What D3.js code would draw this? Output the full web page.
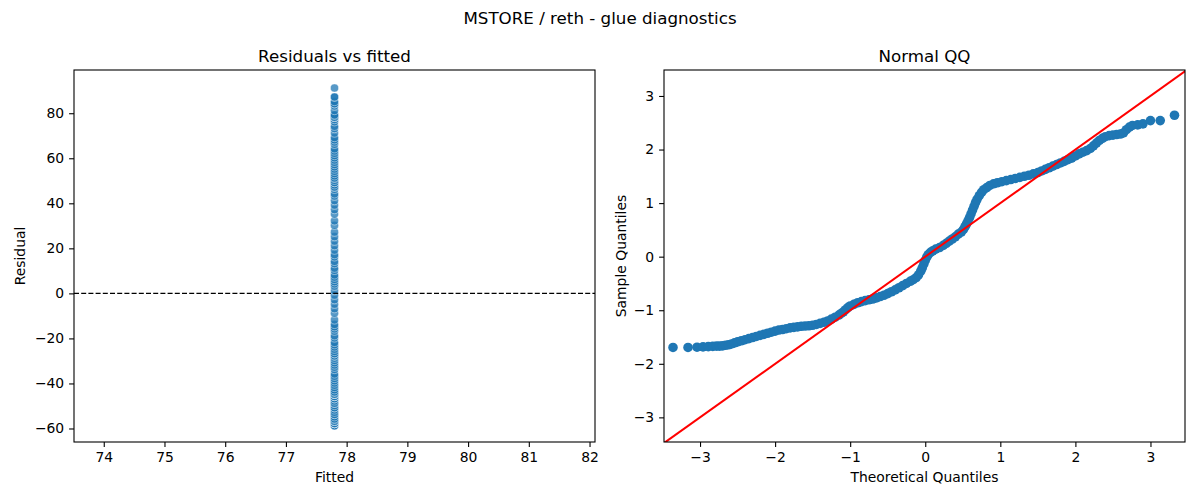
<!DOCTYPE html>
<html><head><meta charset="utf-8">
<script src="https://cdn.jsdelivr.net/npm/d3@7"></script>
<style>body{margin:0;background:#fff} text{font-family:"DejaVu Sans",sans-serif;fill:#000}</style>
</head><body><svg id="c" width="1200" height="500"></svg>
<script>
// ---- data ----
const chartTitle = "MSTORE / reth - glue diagnostics";
const fittedValue = 77.8;
const residualScale = 34.4; // residual standard deviation
const qqTheoretical = [
 -3.36,-3.16,-3.04,-2.96,-2.89,-2.83,-2.78,-2.74,-2.70,-2.66,-2.62,-2.58,-2.54,-2.50,
 -2.45,-2.40,-2.35,-2.30,-2.25,-2.20,-2.15,-2.10,-2.05,-2.00,-1.95,-1.90,-1.85,-1.80,
 -1.75,-1.70,-1.65,-1.60,-1.55,-1.50,-1.45,-1.40,-1.35,-1.30,-1.25,-1.20,-1.15,-1.12,
 -1.09,-1.06,-1.03,-1.00,-0.95,-0.90,-0.85,-0.80,-0.75,-0.70,-0.65,-0.60,-0.55,-0.50,
 -0.45,-0.40,-0.35,-0.30,-0.25,-0.20,-0.16,-0.12,-0.09,-0.06,-0.04,-0.02,0.00,0.02,
 0.04,0.07,0.10,0.14,0.19,0.24,0.28,0.32,0.36,0.40,0.44,0.48,0.51,0.53,0.55,0.57,
 0.59,0.61,0.63,0.65,0.67,0.69,0.72,0.75,0.78,0.82,0.86,0.91,0.96,1.02,1.08,1.14,
 1.20,1.26,1.32,1.38,1.44,1.50,1.55,1.60,1.65,1.70,1.75,1.80,1.85,1.90,1.95,2.00,
 2.05,2.10,2.15,2.20,2.24,2.28,2.32,2.36,2.40,2.45,2.50,2.55,2.60,2.64,2.68,2.72,
 2.76,2.83,2.90,3.00,3.13,3.32];
const qqSample = [
 -1.695,-1.695,-1.69,-1.685,-1.68,-1.675,-1.67,-1.67,-1.665,-1.655,-1.645,-1.63,-1.61,-1.59,
 -1.57,-1.55,-1.53,-1.51,-1.49,-1.47,-1.45,-1.43,-1.41,-1.39,-1.37,-1.36,-1.345,-1.33,
 -1.32,-1.31,-1.30,-1.295,-1.29,-1.28,-1.265,-1.245,-1.225,-1.20,-1.165,-1.13,-1.09,-1.06,
 -1.03,-0.99,-0.95,-0.92,-0.89,-0.86,-0.84,-0.82,-0.805,-0.79,-0.77,-0.745,-0.72,-0.69,
 -0.655,-0.62,-0.58,-0.54,-0.50,-0.46,-0.43,-0.39,-0.34,-0.27,-0.21,-0.14,-0.07,-0.01,
 0.04,0.08,0.11,0.14,0.17,0.21,0.25,0.29,0.33,0.37,0.42,0.46,0.51,0.56,0.61,0.67,
 0.73,0.80,0.87,0.94,1.01,1.07,1.14,1.20,1.25,1.29,1.33,1.36,1.38,1.40,1.42,1.44,
 1.46,1.48,1.50,1.52,1.545,1.57,1.60,1.63,1.66,1.69,1.72,1.75,1.78,1.81,1.84,1.88,
 1.92,1.95,1.98,2.02,2.07,2.12,2.17,2.21,2.24,2.26,2.27,2.28,2.29,2.31,2.37,2.42,
 2.45,2.46,2.48,2.54,2.54,2.64];
const leftXTicks = [74,75,76,77,78,79,80,81,82];
const leftYTicks = [-60,-40,-20,0,20,40,60,80];
const qqTicks = [-3,-2,-1,0,1,2,3];

// ---- layout ----
const svg = d3.select("#c");
const L = {x0:74, x1:595, y0:70, y1:442};
const R = {x0:664, x1:1185, y0:70, y1:442};
const tickFont = "13.9px", labelFont = "13.9px", titleFont = "16.7px";
const blue = "#1f77b4";

svg.append("text").attr("x",600).attr("y",24).attr("text-anchor","middle")
  .style("font-size",titleFont).text(chartTitle);

function frame(box, xScale, yScale, xTicks, yTicks, title, xlabel, ylabel){
  const g = svg.append("g");
  const xa = d3.axisBottom(xScale).tickValues(xTicks).tickSize(4.9).tickPadding(4.9).tickFormat(d3.format("d"));
  const ya = d3.axisLeft(yScale).tickValues(yTicks).tickSize(4.9).tickPadding(4.9).tickFormat(d3.format("d"));
  const gx = g.append("g").attr("transform",`translate(0,${box.y1})`).call(xa);
  const gy = g.append("g").attr("transform",`translate(${box.x0},0)`).call(ya);
  [gx,gy].forEach(a=>{
    a.select(".domain").remove();
    a.selectAll(".tick line").attr("stroke","#000").attr("stroke-width",1.1);
    a.selectAll(".tick text").style("font-size",tickFont).style("font-family",'"DejaVu Sans",sans-serif').attr("fill","#000");
  });
  g.append("rect").attr("x",box.x0).attr("y",box.y0).attr("width",box.x1-box.x0).attr("height",box.y1-box.y0)
    .attr("fill","none").attr("stroke","#000").attr("stroke-width",1.1);
  const cx = (box.x0+box.x1)/2, cy=(box.y0+box.y1)/2;
  g.append("text").attr("x",cx).attr("y",box.y0-8).attr("text-anchor","middle").style("font-size",titleFont).text(title);
  g.append("text").attr("x",cx).attr("y",482).attr("text-anchor","middle").style("font-size",labelFont).text(xlabel);
  g.append("text").attr("transform",`translate(${ylabel.x},${cy}) rotate(-90)`).attr("text-anchor","middle")
    .style("font-size",labelFont).text(ylabel.t);
}

// ---- left: residuals vs fitted (observed response is integer-valued) ----
const lx = d3.scaleLinear().domain([73.51,82.09]).range([L.x0,L.x1]);
const ly = d3.scaleLinear().domain([-66,99.2]).range([L.y1,L.y0]);
const residuals = qqSample.map(s=>Math.round(fittedValue + s*residualScale) - fittedValue);
svg.append("defs").append("clipPath").attr("id","lc").append("rect")
  .attr("x",L.x0).attr("y",L.y0).attr("width",L.x1-L.x0).attr("height",L.y1-L.y0);
const lg = svg.append("g").attr("clip-path","url(#lc)");
lg.selectAll("circle").data(residuals).join("circle")
  .attr("cx",lx(fittedValue)).attr("cy",d=>ly(d)).attr("r",4.1)
  .attr("fill",blue).attr("fill-opacity",0.75).attr("stroke","#fff").attr("stroke-opacity",0.75).attr("stroke-width",0.6);
lg.append("line").attr("x1",L.x0).attr("x2",L.x1).attr("y1",ly(0)).attr("y2",ly(0))
  .attr("stroke","#000").attr("stroke-width",1.2).attr("stroke-dasharray","5,2.2");
frame(L,lx,ly,leftXTicks,leftYTicks,"Residuals vs fitted","Fitted",{x:25,t:"Residual"});

// ---- right: normal QQ ----
const qx = d3.scaleLinear().domain([-3.48,3.46]).range([R.x0,R.x1]);
const qy = d3.scaleLinear().domain([-3.46,3.485]).range([R.y1,R.y0]);
svg.append("defs").append("clipPath").attr("id","rc").append("rect")
  .attr("x",R.x0).attr("y",R.y0).attr("width",R.x1-R.x0).attr("height",R.y1-R.y0);
const rg = svg.append("g").attr("clip-path","url(#rc)");
rg.selectAll("circle").data(qqTheoretical.map((t,i)=>[t,qqSample[i]])).join("circle")
  .attr("cx",d=>qx(d[0])).attr("cy",d=>qy(d[1])).attr("r",4.8).attr("fill",blue);
const lim = [-3.48,3.485];
rg.append("line").attr("x1",qx(lim[0])).attr("y1",qy(lim[0])).attr("x2",qx(lim[1])).attr("y2",qy(lim[1]))
  .attr("stroke","red").attr("stroke-width",2);
frame(R,qx,qy,qqTicks,qqTicks,"Normal QQ","Theoretical Quantiles",{x:626,t:"Sample Quantiles"});
</script></body></html>
